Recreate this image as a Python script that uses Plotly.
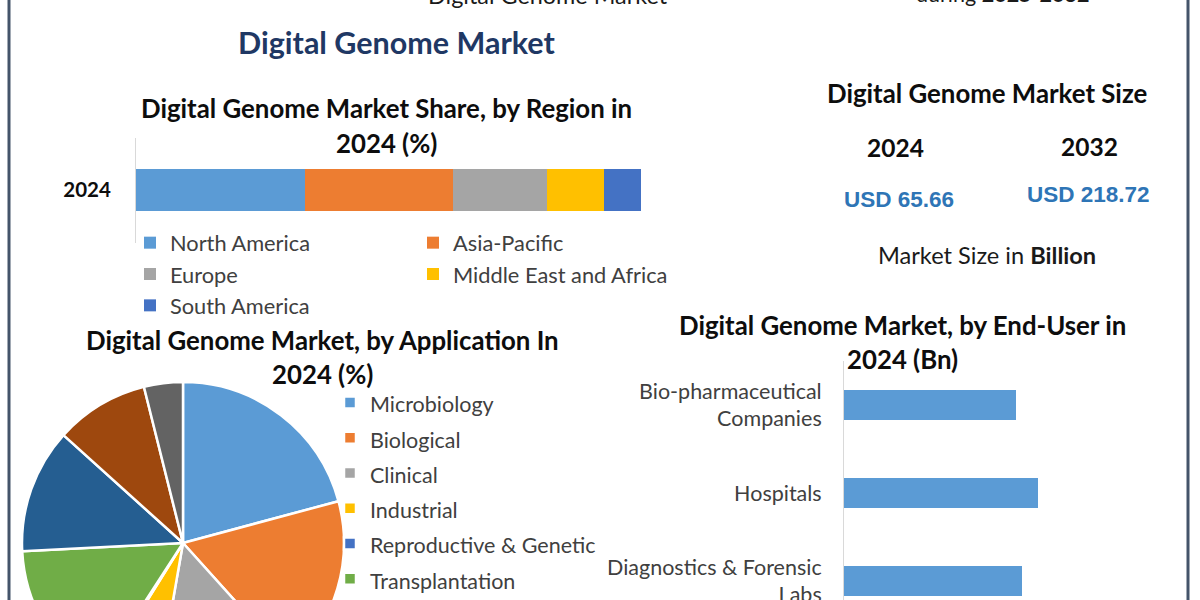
import plotly.graph_objects as go

# ---------------- data ----------------
region_year = ["2024"]
regions = ["North America", "Asia-Pacific", "Europe", "Middle East and Africa", "South America"]
region_share = [33.5, 29.3, 18.6, 11.3, 7.3]
region_colors = ["#5B9BD5", "#ED7D31", "#A5A5A5", "#FFC000", "#4472C4"]
region_legend = ["legend", "legend2", "legend", "legend2", "legend"]

applications = ["Microbiology", "Biological", "Clinical", "Industrial",
                "Reproductive & Genetic", "Transplantation", "Forensic",
                "Personalized Medicine", "Others"]
application_share = [20.8, 17.5, 14.4, 6.1, 0.3, 15.0, 12.5, 9.4, 3.9]
application_colors = ["#5B9BD5", "#ED7D31", "#A5A5A5", "#FFC000", "#4472C4",
                      "#70AD47", "#255E91", "#9E480E", "#636363"]

end_users = ["Bio-pharmaceutical<br>Companies", "Hospitals", "Diagnostics & Forensic<br>Labs"]
end_user_value = [20.8, 23.4, 21.5]

size_years = ["2024", "2032"]
size_values = ["USD 65.66", "USD 218.72"]

# ---------------- geometry helpers ----------------
W, H = 1200, 760
def px(x):
    return x / W
def py(y):
    return 1 - y / H

FONT = "Lato"
TXT = "#404040"

fig = go.Figure()

# stacked region bar
for name, val, col, lg in zip(regions, region_share, region_colors, region_legend):
    fig.add_trace(go.Bar(
        y=region_year, x=[val], name=name, orientation="h",
        marker=dict(color=col, line=dict(width=0)), width=[0.4],
        xaxis="x", yaxis="y", legend=lg, showlegend=True, hoverinfo="skip"))

# application pie
fig.add_trace(go.Pie(
    labels=['<span style="font-size:21.5px">%s</span>' % a for a in applications],
    values=application_share, sort=False, direction="clockwise", rotation=0,
    marker=dict(colors=application_colors, line=dict(color="white", width=2.5)),
    textinfo="none", hoverinfo="skip",
    domain=dict(x=[px(22), px(344)], y=[py(704), py(382)]),
    legend="legend3", showlegend=True))

# end-user bars
fig.add_trace(go.Bar(
    y=end_users, x=end_user_value, orientation="h", width=[0.34] * 3,
    marker=dict(color="#5B9BD5", line=dict(width=0)),
    xaxis="x2", yaxis="y2", showlegend=False, hoverinfo="skip"))

annotations = []
def ann(text, x, y, size, color="#0D0D0D", family=FONT):
    annotations.append(dict(text=text, x=px(x), y=py(y), xref="paper", yref="paper",
                            xanchor="center", yanchor="middle", showarrow=False,
                            font=dict(size=size, color=color, family=family)))

ann("Digital Genome Market", 548, -5, 23.4, color="#1a1a1a")
ann("during <b>2025-2032</b>", 1002, -6, 21.5, color="#1a1a1a")
ann("<b>Digital Genome Market</b>", 396, 42, 30.5, color="#1F3864")
ann("<b>Digital Genome Market Share, by Region in</b>", 386, 108, 25.8)
ann("<b>2024 (%)</b>", 386, 143, 25.8)
ann("<b>Digital Genome Market Size</b>", 987, 93, 25.8)
ann("<b>%s</b>" % size_years[0], 895, 147, 24.5)
ann("<b>%s</b>" % size_years[1], 1089, 146, 24.5)
ann("<b>%s</b>" % size_values[0], 899, 200, 22.5, color="#2E75B6", family="Liberation Sans")
ann("<b>%s</b>" % size_values[1], 1088, 195, 22.5, color="#2E75B6", family="Liberation Sans")
ann("Market Size in <b>Billion</b>", 987, 255, 23.6, color="#1a1a1a")
ann("<b>Digital Genome Market, by Application In</b>", 322, 340, 25.8)
ann("<b>2024 (%)</b>", 322, 374, 25.8)
ann("<b>Digital Genome Market, by End-User in</b>", 902, 325, 25.8)
ann("<b>2024 (Bn)</b>", 902, 359, 25.8)

shapes = [
    dict(type="line", xref="paper", yref="paper", x0=px(9), x1=px(9), y0=0, y1=1,
         line=dict(color="#44546A", width=3)),
    dict(type="line", xref="paper", yref="paper", x0=px(1188), x1=px(1188), y0=0, y1=1,
         line=dict(color="#44546A", width=3)),
]

leg_common = dict(orientation="v", xanchor="left", yanchor="top", bgcolor="rgba(0,0,0,0)",
                  borderwidth=0, traceorder="normal")

fig.update_layout(
    width=W, height=H,
    margin=dict(l=0, r=0, t=0, b=0),
    paper_bgcolor="white", plot_bgcolor="rgba(0,0,0,0)",
    barmode="stack",
    font=dict(family=FONT, color=TXT),
    annotations=annotations, shapes=shapes,
    xaxis=dict(domain=[px(136), px(641)], range=[0, 100], visible=False, anchor="y"),
    yaxis=dict(domain=[py(242.5), py(137.5)], type="category", anchor="x",
               showline=True, linecolor="#D9D9D9", linewidth=1, ticks="",
               showgrid=False, zeroline=False, ticklabelstandoff=20,
               tickfont=dict(size=20.5, color="#0D0D0D", family=FONT, weight="bold")),
    xaxis2=dict(domain=[px(844), px(1175)], range=[0, 40], visible=False, anchor="y2"),
    yaxis2=dict(domain=[py(625), py(361)], type="category", anchor="x2",
                autorange="reversed", showline=True, linecolor="#D9D9D9", linewidth=1,
                ticks="", showgrid=False, zeroline=False, ticklabelstandoff=17,
                tickfont=dict(size=21.5, color=TXT, family=FONT)),
    legend=dict(x=px(130), y=py(222), font=dict(size=21.8, color=TXT, family=FONT), **leg_common),
    legend2=dict(x=px(413), y=py(222), font=dict(size=21.8, color=TXT, family=FONT), **leg_common),
    legend3=dict(x=px(330), y=py(380), font=dict(size=24.8, color=TXT, family=FONT), **leg_common),
    showlegend=True,
)

fig.write_html("out.html")
